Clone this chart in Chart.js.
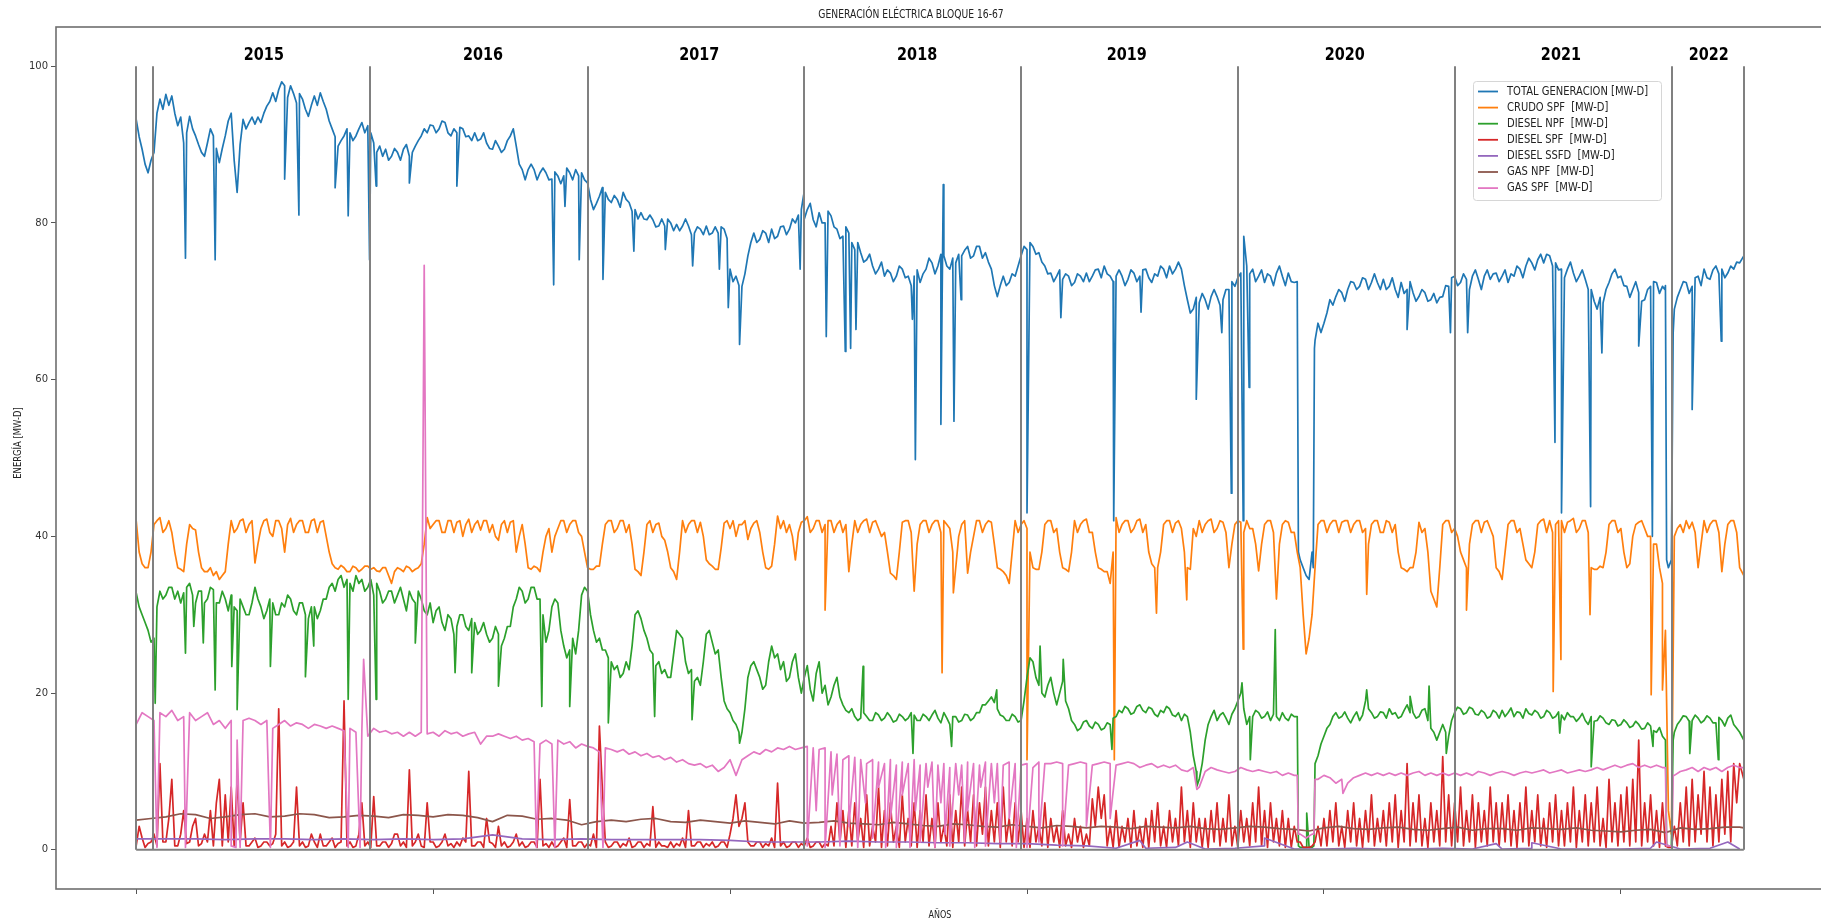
<!DOCTYPE html>
<html><head><meta charset="utf-8">
<script src="https://cdn.jsdelivr.net/npm/chart.js@4.4.1/dist/chart.umd.min.js"></script>
<style>
html,body{margin:0;padding:0;background:#fff;overflow:hidden;width:1821px;height:924px}
#wrap{position:absolute;left:0;top:0;width:1830px;height:924px}
canvas{display:block}
</style></head><body>
<div id="wrap"><canvas id="c" width="1830" height="924"></canvas></div>
<script>
const TITLE = 'GENERACIÓN ELÉCTRICA BLOQUE 16-67';
const X_LABEL = 'AÑOS';
const Y_LABEL = 'ENERGÍA [MW-D]';
const SERIES_NAMES = ['TOTAL GENERACION [MW-D]','CRUDO SPF  [MW-D]','DIESEL NPF  [MW-D]','DIESEL SPF  [MW-D]','DIESEL SSFD  [MW-D]','GAS NPF  [MW-D]','GAS SPF  [MW-D]'];
const COLORS = ['#1f77b4','#ff7f0e','#2ca02c','#d62728','#9467bd','#8c564b','#e377c2'];
const Y_TICKS = [0,20,40,60,80,100];
const X_TICKS = [0,500,1000,1500,2000,2500];
const YEAR_LINE_DAYS = [0,29,394,760,1125,1490,1855,2221,2586,2707];
const YEAR_LABELS = ['2015','2016','2017','2018','2019','2020','2021','2022'];
const YEAR_LABEL_DAYS = [215,584,948,1315,1668,2035,2399,2648];
const STEP_FINE = 5;    // days between samples of the noisy series
const STEP_MAIN = 10;   // days between samples of GAS SPF
const STEP_SMOOTH = 50; // days between samples of the smooth series

const TOTAL = [
93.2,91,89.4,87.5,86.4,88,89,94,95.8,94.5,96.4,95,96.2,94,92.4,93.5,90.2,91.5,93.6,92,
91.1,90,89,88.5,90.2,92,91.1,89.5,87.7,89.5,91.1,93,94,88,83.9,90,93.2,92,92.8,93.5,
92.6,93.5,92.8,94,94.9,95.5,96.6,95.5,97,98,97.5,96,97.5,96.5,95.3,96.5,95.8,94.5,93.6,95,
96.2,95,96.6,95.5,94.5,93,92,91,89.8,90.5,91.1,92,91.5,90.5,91.1,92,92.8,91.5,92.4,91.5,
90.2,89,89.8,88.5,89.4,88,88.5,89.5,89,88,89.4,90,88.5,89,89.8,90.5,91.1,92,91.5,92.5,
92.4,91.5,92,93,92.8,91.5,91.1,92,91.5,92.2,92,91,91.1,90.5,91.5,90.5,90.7,91.5,90.2,89.5,
89.4,90.5,89.8,89,89.4,90.5,91.1,92,89.8,87.5,86.8,85.5,86.8,87.5,86.8,85.5,86.4,87,86.4,85.5,
85.6,86.5,86,85,86,87,86.4,85.5,86.8,86,86.4,85.5,85.1,83,81.7,82.5,83.4,84.5,83.9,83,
82.6,83.5,83,82,83.9,83,82.6,81.5,81.7,80.5,81.3,80.5,80.4,81,80.4,79.5,79.6,80.5,79.6,80.5,
80,79,79.8,79,79.6,80.5,79.6,78.5,78.7,79.5,79.2,78.5,79.6,78.5,78.7,79.5,78.7,79.5,79.2,78,
74.1,72.5,73.2,72,71.9,73.5,75.8,77.5,78.7,77.5,77.9,79,78.7,77.5,79.2,78,78.3,79.5,79.6,78.5,
79.2,80.5,80,81,81.7,80.5,81.7,82.5,80.4,79.5,81.3,80,80,81.5,80.9,79.5,79.2,78,78.3,79.5,
78.7,77.5,76.6,77.5,76.2,75,75.3,76,74.5,73.5,74.1,75,73.2,74,73.6,72.5,73.2,74.5,74.1,73,
73.2,72,73.2,74,72.4,73.5,74.1,75.5,74.9,73.5,74.5,76,75.8,74.5,74.1,75.5,74.9,76,75.8,76.5,
77,75.5,75.8,77,77,75.5,76.2,75,74.1,72,70.6,72,73.2,72,72.4,73.5,73.2,74.5,75.8,77,
76.6,77.5,77,76,76.2,75,74.5,73.5,73.6,72.5,73.2,74,72.8,73.5,73.2,72,72.4,73.5,73.2,72.5,
73.6,72.5,73.2,74,74.1,73,74.5,73.5,73.2,72.5,73.2,74,73.2,72,72.8,74,73.6,72.5,73.2,74,
74.1,73,72.4,73.5,73.2,74.5,74.1,73,74.5,73.5,74.1,75,74.1,72,70.2,68.5,69,70.5,69.8,71,
70.2,69,70.6,71.5,70.6,69.5,70.2,71.5,71.5,72.5,71.9,73,73.6,75,74.5,73.5,74.1,72.5,73.2,74,
72.4,73.5,73.2,72,73.6,74.5,73.2,72,73.6,72.5,72.4,72.5,37,36,35,34.5,38,65,67.2,66,
67.2,68.5,70.2,69.5,70.6,71.5,71.1,70,71.5,72.5,72.4,71.5,71.9,73,72.8,71.5,72.4,73.5,72.4,71.5,
72.8,71.5,71.9,73,71.5,70.5,72.4,71,71.5,72.5,71.1,70,70.6,71.5,71.1,70,70.2,71,69.8,70.5,
70.6,72,71.9,73,73.2,72,72.4,73.5,72.8,71.5,73.2,74,72.8,71.5,73.2,74,72.8,73.5,73.6,72.5,
73.2,74,72.4,73.5,73.2,74.5,74.1,73,74.5,75.5,74.9,74,75.3,76,74.9,76,75.8,74.5,74.9,74,
74.1,73,74.1,75,73.6,72.5,73.2,74,72.8,71.5,71.5,70,69,70.5,69.8,71.5,72.4,73.5,74.1,73,
73.2,72,71.9,70.5,71.5,72.5,71.1,70,70.2,71.5,71.9,72.5,72.4,71,71.9,72,36,37,69,70.5,
71.5,72.5,72.4,71,71.9,73,73.2,72,74.1,73,72.8,74,74.5,73.5,74.1,73,73.6,74.5,74.1,75,74.9];
const TOTAL_EVENTS = [[83,75.5],[133,75.3],[250,85.6],[274,81],[335,84.5],[357,80.9],[393,75.3],[404,84.7],[460,85.1],[540,84.7],[703,72.1],[722,82.1],[746,75.3],[786,72.8],[838,76.4],[891,76.6],[937,74.5],[982,74.1],[997,69.2],[1016,64.5],[1118,74.1],[1124,83.6],[1162,65.5],[1194,63.6],[1203,64],[1212,66.4],[1307,67.7],[1312,49.8],[1355,54.3],[1359,84.9],[1377,54.7],[1389,70.2],[1500,43],[1557,67.9],[1646,42],[1692,68.6],[1785,57.5],[1828,66],[1844,45.5],[1864,42],[1865,78.3],[1874,59],[1957,38],[1982,36],[1984,64],[2140,66.4],[2213,66],[2242,66],[2389,52],[2400,43],[2449,43.8],[2468,63.4],[2530,64.3],[2553,40],[2574,71.5],[2577,37],[2586,37],[2588,66],[2620,56.2],[2669,64.9],[2707,75.8]];

const CRUDO = [
42,38,36.5,36,36,38,41.5,42,42.4,40.5,41,42,40.5,38,36,35.8,35.5,39,41.5,41,
40.8,38,36,35.5,35.5,36,35,35.5,34.5,35,35.5,39,42,40.5,41,42,42.2,40.5,41.5,42,
36.6,39,41,42,42.2,40.5,40,42,42,41,38,41.5,42.3,40.5,41.5,42,42,40.5,40.5,42,
42.2,40.5,41.8,42,40,38,36.5,36,35.8,36.3,36,35.5,35.5,36.2,36,35.5,35.8,36.2,36.2,35.8,
36,35.6,35.5,36,36,35,34,35.5,36,35.8,35.5,36.2,36,35.5,35.8,36,36.5,39,42.4,41,
41.5,42,42,40.5,40.5,42,42,40.5,41.8,42,40,41.5,42.2,40.5,41.5,42,40.8,42,42,40.5,
41.5,40,39.5,41.5,42,40.5,41.8,42,38,40,41.5,39,36,35.8,36.2,36,35.5,38,40,41,
38,40,41,42,42,40.5,41.5,42,42,40.5,40,38,36,35.8,35.8,36.2,36.2,39,41.5,42,
42,40.5,41,42,42,40.5,41.5,39,35.8,35.5,35,38,41.5,42,40.5,41.5,41.7,40,39.5,38,
36,35.5,34.5,38,42,40.5,41.5,42,42,40.5,41.8,40,37,36.5,36.2,35.8,35.8,38.5,41.7,42,
41,42,40,41.5,41.5,42,39.6,41,41.7,42,40.5,38,36,35.8,36.2,39,42.6,41,42,40.5,
41.5,40,37,40.5,41.8,42,42.5,40.5,41,42,42,40.5,41.5,42,42,40.5,41.5,42,40.5,41.5,
35.5,39,42,40.5,41.5,42,42.2,40.5,41.8,42,41,40,40.5,38,35.3,35,34.5,38,41.8,42,
42,40.5,33,39,41.5,42,42,40.5,41.5,42,42,40.5,42,41.5,41,38,36,40,41.5,42,
35.3,38,40,42,42,40.5,41.5,42,41.8,39,36,35.8,35.5,35,34,38,42,40.5,41.5,42,
41,38,36,35.8,35.8,38,41.5,42,42,40.5,41,38,36,35.8,35.5,38,42,40.5,41.5,42,
42.2,40.5,40.5,38,36,35.8,35.5,35.5,34,38,42.4,40.5,41.5,42,42,40.5,41,42,42.2,40.5,
41.5,38,36.5,36,36,38,41.5,42,42,40.5,41.7,42,41,38,36,35.8,41,40,42,40.5,
41.5,42,42.2,40.5,41,42,41.8,40.5,36,39,41.5,42,41.8,40.5,42,41,41,39,35.6,39,
41.5,42,42,40.5,32,39,41.5,42,41.8,40.5,40.5,38,36,30,25,27,30,36,41.5,42,
42,40.5,41.5,42,42,40.5,41.8,42,42,40.5,41.5,42,42,40.5,41,39,41.5,42,42,40.5,
40.5,42,41.8,40.5,41.5,38,36,35.8,35.5,36,36,38,41.8,40.5,41,38,33,32,31,36,
41.5,42,42,40.5,41,40,38,37,36,39,41.5,42,42,40.5,41.8,42,41,40,36,35.5,
34.5,38,41.5,42,42,40.5,41,39,37,36.5,36,38,41.5,42,42.2,40.5,42,40.5,41.5,42,
42,40.5,41.8,42,42.3,40.5,41,42,42,40.5,36,35.8,35.8,36.2,36,38,41.5,42,42,40.5,
41,38,36,36.5,40,41.5,41.8,42,41,40,40,39,39,36,34,28,5,2,40,41,
41.5,40.5,42,41,41.8,40.5,36,39,42,40.5,41.5,42,42,40.5,35.5,39,41.5,42,42,40.5,36];
const CRUDO_EVENTS = [[1160,30.6],[1357,22.6],[1376,32.8],[1500,11.5],[1647,11.5],[1718,30.2],[1769,31.9],[1864,25.6],[2072,32.6],[2240,30.6],[2386,20.2],[2399,24.3],[2448,30],[2551,19.8],[2570,20.4],[2707,35]];

const DIESEL_NPF = [
32.8,31,30,29,28,26.5,27,31,33,32,32.5,33.5,33.5,32,33,31.5,32.8,33.5,34,32.5,
31.5,33,33,31.5,32,33.5,33.2,31.5,31.5,33,32,30.5,32.5,31,30.5,32,31,30,30,31.5,
33.5,32,31,29.5,30.5,32,31.5,30,30,31.5,31,32.5,32,30.5,30,31.5,31.5,30,29.5,31,
31,29.5,30.5,32,32,33.5,34,33,34.5,35,33.5,34.5,34,33,35,34,34.5,33,33.5,34.5,
32.5,34,33,31.5,32,33,33,31.5,32.5,33.5,32,30.5,33,32,31.5,33,32,30.5,30,31.5,
29,30.5,31,29,28,30,29.5,27.5,28.5,30,30,28.5,28,29.5,29,27.5,28,29,27.5,26.5,
27,28.5,27.5,26,27,28.5,28.5,31,32,33.5,33,31.5,32,33.5,33.5,32,32,30,26.5,28,
31,32,31.5,28,26,24.5,25.5,27,25,28,32.5,33.5,33,30,28,26.5,27,25.5,25.5,24.5,
24,23,23.5,22,22.5,24,23,26,30,30.5,29.5,28,27,25.5,25,23.5,24,22.5,23,22,
22,25,28,27.5,27,24,22.5,23,21.5,22,21,24,27.5,28,26.5,25,25.5,22,19,18,
17.5,16.5,16,15,15,18,22,23.5,24,23,22,20.5,21,24,26,24.5,25,23,24,21.5,
22,24,25,22,20,22,23.5,20.5,19,22.5,24,20,21,18.5,19.5,21,22,19.5,18.5,17.8,
17.5,18,17,16.5,16.8,17.5,17,16.5,16.5,17.5,17.2,16.5,16.8,17.5,17,16.3,16.5,17.3,17,16.5,
16.8,17.5,17.2,16.5,16.5,17.3,17,16.5,17.2,17.8,16.8,16.2,17.5,16.8,16,17,17,16.3,16.5,17.3,
17.2,16.5,16.8,17.5,17.5,18.5,18.5,19,19.5,18.8,18,17.2,17,16.5,16.5,17.3,17,16.3,16.5,19,
22,24.5,24,22,21,20,19.5,21,22,20,18.5,20,21.5,19,18,16.5,16,15.2,15.5,16.3,
16.5,15.8,15.5,16.3,16,15.3,15.5,16.2,16,16.8,17,17.8,17.5,18.3,18,17.3,17.5,18.3,18.5,17.8,
17.5,18.2,18,17.3,17,17.8,17.5,18.3,18,17.2,17,17.5,16.5,17.3,17,15,12,10,9,11,
14,16,17,17.8,16.5,17.2,17.5,16.8,16,17.3,18,19,20,18,16,17,17,17.8,17.5,16.8,
17,17.6,16.5,17.3,17,16.5,17.5,16.8,16.5,17.3,17,17,0.3,0.3,0.3,0.3,0.3,11,12,13.5,
14.5,15.5,16,17,17.5,16.8,17,17.6,16.8,16.2,17,17.6,16.5,17.2,19,18,17.5,16.8,17,17.6,
17.5,16.8,18,17.3,17.5,16.8,17,17.8,18.5,17.5,17.5,16.8,17,17.8,18,16.5,15.5,15,14,15,
16,15,14.5,16.5,17.5,18.2,18,17.3,17.5,18.2,18,17.3,17.2,17.8,17.5,16.8,17,17.8,17.5,16.8,
17.8,17,17.5,18.1,17,17.6,17.5,16.8,18,17.4,17.2,17.8,17.5,16.8,17,17.8,17.5,16.8,17,17.6,
17.2,16.6,17.5,17,17,16.4,16.8,17.4,16.5,16,17,16.4,16.5,17.1,16.8,16.2,16,16.6,16.5,15.8,
16,16.6,16.2,15.6,15.8,16.4,16,15.4,15.5,16.2,15.8,15.2,15,15.6,14.5,14,0.5,0.5,15,16,
16.5,17.1,17,16.4,16.5,17.2,16.8,16.2,16.5,17.1,16.8,16.2,16.2,16.9,16.5,15.8,16.8,17.2,16,15.5,15];
const DIESEL_NPF_EVENTS = [[32,18.7],[83,25.1],[97,28.5],[113,26.4],[133,20.4],[161,23.4],[170,17.9],[226,23.4],[285,22.1],[299,26],[357,19.2],[404,19.2],[470,26.4],[537,22.6],[565,22.6],[610,20.9],[683,18.3],[730,18.3],[795,16.2],[873,17],[936,16.6],[1016,13.6],[1224,23.4],[1308,12.3],[1373,13.2],[1449,20.4],[1522,26],[1561,24.3],[1643,12.8],[1786,8.1],[1862,21.3],[1876,11.5],[1918,28.1],[1957,0.5],[1971,4.7],[1983,0.5],[2072,20.4],[2145,19.6],[2177,20.9],[2206,12.3],[2397,14.9],[2450,10.6],[2554,13.2],[2577,0.5],[2586,0.5],[2588,14],[2616,12.3],[2664,11.5],[2707,14]];

const DIESEL_SPF = [
0.5,3,1.5,0.3,0.8,1,2,0.5,11,1,1,4,9,0.5,0.5,2,5,0.8,1,3,
4,0.5,0.8,2,1,5,0.5,6,9,0.5,7,1,8,0.5,9,1,6,0.5,0.5,1,
1.5,0.3,0.5,1,1,0.5,0.8,2,18,0.5,1,0.3,0.5,1,8,0.5,1,0.3,0.5,2,
1,0.3,2,0.5,0.5,1,1.5,0.3,0.8,1,19,0.5,1,0.3,0.5,2,6,0.5,1,0.3,
6.8,0.5,0.5,1,1,0.3,0.8,2,2,0.5,1,0.3,10.2,0.5,1,2,0.5,0.3,6,1,
1,0.3,0.5,1,2,0.5,0.8,0.3,1,0.5,1.5,1,10,0.5,0.5,1,1,0.3,4,1,
0.8,0.3,3,0.5,1,0.3,0.5,1,2,0.5,1,0.3,0.5,1,1,0.3,9,0.5,0.8,0.3,
1,0.3,0.5,1,1.5,0.3,6.4,0.5,0.5,1,1,0.3,0.8,0.5,2,0.3,15.8,7.7,1,0.3,
0.5,1,1,0.3,0.8,0.5,1.5,0.3,0.5,1,1,0.3,0.8,0.5,5.5,0.3,1,0.5,0.5,0.3,
1,0.3,0.8,0.5,1.5,0.3,5,0.5,0.5,1,1,0.3,0.8,0.5,1,0.3,0.5,1,1,0.3,
2,4,7,3,4,6,1,0.5,0.5,1,1,0.3,0.8,0.5,1.5,0.3,8.5,0.5,1,0.3,
0.5,1,1,0.3,0.8,0.5,1.5,0.3,0.5,1,1,0.3,0.8,0.5,3,0.5,6,1,5,0.3,
5,0.5,6,1,4,0.3,7,0.5,3,1,8,0.3,5,0.5,6,1,3,0.3,7,1,
4,0.5,6,0.3,5,1,7,0.5,4,0.3,6,1,3,0.5,7,0.3,5,1,8,0.5,
5,1,7,0.5,6,2,8,0.5,5,1,6,0.3,8,1,4,0.5,6,1,5,0.3,
4,0.3,5,1,3,0.5,6,0.3,4,1,3,0.3,5,0.5,2,0.3,4,1,3,0.3,
2,0.5,6.5,3,8,4,7,0.5,3,0.3,5,0.3,3,1,4,0.3,5,0.5,3,0.3,
4,0.3,5,1,6,0.5,3,0.3,5,1,4,0.5,8,1,5,0.3,6,1,4,0.3,
4,0.3,5,1,6,0.5,4,1,7,0.5,3,0.3,5,1,4,0.5,6,1,8,0.5,
5,0.3,6,1,4,0.5,5,0.3,4,0.3,3,1,1,0.3,0.3,0.3,0.5,1,3,0.5,
4,0.5,5,1,6,0.5,3,0.3,5,1,6,0.5,4,0.3,5,1,7,0.5,4,1,
5,0.5,6,1,7,0.3,5,1,11,0.5,6,1,7,0.5,4,0.3,6,1,5,0.5,
11.9,1,7,0.5,6,1,8,0.5,5,1,7,0.3,6,1,5,0.5,8,1,6,0.5,
6,1,7,0.5,5,0.3,6,1,8,0.5,5,1,7,0.5,4,0.3,6,1,7,0.5,
5,0.5,6,1,8,0.3,5,1,7,0.5,6,1,8,0.5,4,0.3,9,1,6,0.5,
7,1,8,0.5,9,1,14,0.5,6,1,7,0.5,5,0.3,6,0.5,0.3,0.3,3,0.5,
6,1,8,0.5,9,1,7,2,10,1,8,0.5,7,1,9,2,10,1,11,6,11];
const DIESEL_SPF_EVENTS = [[2707,9]];

const DIESEL_SSFD = [1.4,1.4,1.4,1.3,1.4,1.4,1.3,1.4,1.3,1.4,1.3,1.4,1.9,1.4,1.3,1.4,1.3,1.3,1.3,1.3,1.2,1.0,1.0,1.0,1.1,1.0,1.0,0.9,0.9,0.8,0.8,0.6,0.5,0.2,0.2,0.3,0.1,0.2,0.5,0.1,0.1,0.2,0.1,0.1,0.2,0.1,0.1,0.2,0.1,0.1,0.1,0.2,0.1,0.2,0.1];
const DIESEL_SSFD_EVENTS = [[1690,1.2],[1770,1],[1900,1.5],[2290,0.8],[2350,0.9],[2560,1],[2680,1]];

const GAS_NPF = [3.8,4.2,4.5,4.2,4.6,4.3,4.5,4.2,4.3,4.5,4.2,4.4,3.6,4.3,4.0,3.2,3.8,3.9,3.6,3.8,3.4,3.5,3.7,3.5,3.4,3.2,3.3,3.0,3.2,2.9,3.0,3.1,2.8,2.9,3.0,2.8,2.7,2.8,2.9,2.6,2.8,2.7,2.8,2.6,2.7,2.5,2.7,2.8,2.6,2.5,2.3,2.6,2.8,2.7,2.9];
const GAS_NPF_EVENTS = [[25,4.0],[75,4.6],[125,4.0],[175,4.5],[225,4.2],[275,4.6],[325,4.1],[375,4.4],[425,4.1],[475,4.4],[525,4.5],[575,4.1],[625,4.4],[675,3.9],[725,3.8],[775,3.6],[825,3.6],[875,4.0],[925,3.5],[975,3.6],[1025,3.7],[1075,3.3],[1125,3.4],[1175,3.7],[1225,3.3],[1275,3.5],[1325,3.1],[1375,3.3],[1425,3.0],[1475,3.2],[1525,2.8],[1575,3.0],[1625,3.0],[1675,2.7],[1725,2.9],[1775,3.0],[1825,2.6],[1875,3.0],[1925,2.7],[1975,2.4],[2025,3.0],[2075,2.6],[2125,2.9],[2175,2.5],[2225,2.9],[2275,2.7],[2325,2.5],[2375,2.7],[2425,2.8],[2475,2.4],[2525,2.5],[2575,2.2],[2625,2.6],[2675,2.9],[2707,2.8]];

const GAS_SPF = [
16,17.5,17,16.5,17.5,17,17.8,16.5,17,17.5,
16.5,17,17.5,16,16.5,15.5,16.5,14,16.5,16.8,
16.5,16,16.5,15.5,16,16.5,15.8,16.2,16,15.5,
16,15.8,15.5,15.8,15.5,15.2,15.5,15,15.2,14.5,
15.5,15,15.2,14.8,15,14.5,15,14.5,15,14.8,
15,14.5,15.2,14.8,15,14.5,14.8,15,13.5,14.5,
14.5,14.8,14.5,14.2,14.5,14,14.2,13.8,13.5,14,
13.5,14,13.5,13.8,13,13.5,13.2,13,12.5,13,
12.8,12.5,12.8,12.2,12.5,12,12.3,11.8,12,11.5,
11.8,11.2,11.5,11,10.8,11,10.5,10.8,10,10.5,
11.5,9.5,11.5,12,12.5,12.2,12.8,12.5,13,12.8,
13.2,12.8,13,13.2,13,12.8,13,12.5,12.2,11.5,
12,11.8,11.5,11,11.5,11.2,11,11.5,10.8,11.2,
11,11.5,10.8,11,11.2,10.8,11,10.5,11,10.8,
11.2,11,10.8,11.2,11,11,10.8,11.2,11,10.8,
11,10.5,11.2,11,11,11.2,11,10.8,11,11.2,
11,10.8,11,11.2,11,10.8,11,11.2,11,10.5,
10.8,11,10.5,10.8,10.5,10.8,10.2,10,10.5,8,
10,10.5,10.2,10,9.8,10,10.5,10.2,10,10.2,
10,9.8,10,9.5,9.8,9.5,2,1.5,2,9,
9.5,9.2,8.5,9,8.5,9.2,9.5,9.8,9.5,9.8,
9.5,9.8,9.5,9.8,9.5,9.8,10,9.5,9.8,9.5,
9.8,9.5,9.8,9.5,9.8,9.5,10,9.8,9.5,9.8,
10,9.8,9.5,9.8,10,9.8,10,10.2,9.8,10,
10.2,9.8,10,10.2,10,10.2,10.5,10.2,10.5,10.8,
10.5,10.8,11,10.5,10.8,10.5,10.8,10.5,0.5,9.5,
10,10.2,10.5,10,10.5,10.2,10.5,10,10.5,10.8,10.5];
const GAS_SPF_EVENTS = [[35,0.3],[83,0.3],[160,0.5],[168,0.3],[175,0.3],[226,0.3],[357,0.3],[377,0.3],[383,24.3],[485,74.6],[674,0.3],[705,0.3],[786,0.3],[1130,0.5],[1145,5],[1160,0.3],[1172,7],[1185,0.5],[1200,3],[1215,0.3],[1228,6],[1240,1.5],[1250,8],[1262,0.3],[1270,4],[1280,0.3],[1290,7],[1303,0.3],[1312,5],[1320,1],[1333,8],[1345,0.3],[1355,6],[1362,2],[1370,0.5],[1385,7],[1395,1],[1400,5],[1412,0.3],[1422,8],[1430,0.5],[1445,6],[1455,1],[1470,4],[1482,0.3],[1500,0.3],[1520,1],[1560,0.5],[1600,3],[1640,4],[1786,7.7],[1955,9.5],[1957,2],[1983,2],[1985,9],[2032,7.2],[2575,10.5],[2577,0.5],[2586,0.5],[2588,9.5],[2707,10.5]];

function buildPoints(values, step, events) {
  const pts = values.map((v, i) => ({x: i * step, y: v}));
  events.forEach(e => pts.push({x: e[0], y: e[1]}));
  pts.sort((a, b) => a.x - b.x);
  return pts;
}

const SERIES = [
  [TOTAL, STEP_FINE, TOTAL_EVENTS],
  [CRUDO, STEP_FINE, CRUDO_EVENTS],
  [DIESEL_NPF, STEP_FINE, DIESEL_NPF_EVENTS],
  [DIESEL_SPF, STEP_FINE, DIESEL_SPF_EVENTS],
  [DIESEL_SSFD, STEP_SMOOTH, DIESEL_SSFD_EVENTS],
  [GAS_NPF, STEP_SMOOTH, GAS_NPF_EVENTS],
  [GAS_SPF, STEP_MAIN, GAS_SPF_EVENTS]
];

const datasets = SERIES.map((s, i) => ({
  label: SERIES_NAMES[i],
  data: buildPoints(s[0], s[1], s[2]),
  borderColor: COLORS[i],
  backgroundColor: COLORS[i],
  borderWidth: 1.7,
  pointRadius: 0,
  tension: 0,
  fill: false,
  borderJoinStyle: 'round',
  order: SERIES.length - i
}));

function ctext(ctx, text, x, y, font, color, align, sx, rot) {
  ctx.save();
  ctx.font = font; ctx.fillStyle = color;
  ctx.textBaseline = 'middle'; ctx.textAlign = align;
  ctx.translate(x, y);
  if (rot) ctx.rotate(rot);
  ctx.scale(sx, 1);
  ctx.fillText(text, 0, 0);
  ctx.restore();
}

const decor = {
  id: 'decor',
  beforeDraw(chart) {
    const c = chart.ctx;
    c.save(); c.fillStyle = '#fff'; c.fillRect(0, 0, chart.width, chart.height); c.restore();
  },
  afterDatasetsDraw(chart) {
    const c = chart.ctx, xs = chart.scales.x, ys = chart.scales.y;
    c.save();
    c.strokeStyle = '#808080'; c.lineWidth = 2;
    YEAR_LINE_DAYS.forEach(d => {
      const px = Math.round(xs.getPixelForValue(d));
      c.beginPath(); c.moveTo(px, ys.getPixelForValue(0)); c.lineTo(px, ys.getPixelForValue(100)); c.stroke();
    });
    c.beginPath();
    c.moveTo(xs.getPixelForValue(YEAR_LINE_DAYS[0]), ys.getPixelForValue(0));
    c.lineTo(xs.getPixelForValue(YEAR_LINE_DAYS[YEAR_LINE_DAYS.length - 1]), ys.getPixelForValue(0));
    c.stroke();
    c.restore();
  },
  afterDraw(chart) {
    const c = chart.ctx, a = chart.chartArea, xs = chart.scales.x, ys = chart.scales.y;
    c.save();
    c.strokeStyle = '#6e6e6e'; c.lineWidth = 1.6;
    c.strokeRect(a.left, a.top, a.right - a.left, a.bottom - a.top);
    c.restore();
    YEAR_LABELS.forEach((t, i) => {
      ctext(c, t, xs.getPixelForValue(YEAR_LABEL_DAYS[i]), ys.getPixelForValue(101.4), 'bold 18px "DejaVu Sans"', '#000', 'center', 0.8);
    });
    ctext(c, TITLE, 911, 15, '11.5px "DejaVu Sans"', '#222', 'center', 0.8);
    ctext(c, X_LABEL, (a.left + a.right) / 2, 915, '10px "DejaVu Sans"', '#222', 'center', 0.8);
    ctext(c, Y_LABEL, 18, 443, '10.5px "DejaVu Sans"', '#222', 'center', 0.8, -Math.PI / 2);
    const lx = 1473, ly = 81, lw = 188, lh = 119;
    c.save();
    c.fillStyle = 'rgba(255,255,255,0.85)'; c.strokeStyle = '#d6d6d6'; c.lineWidth = 1;
    c.beginPath();
    if (c.roundRect) c.roundRect(lx + 0.5, ly + 0.5, lw, lh, 3); else c.rect(lx + 0.5, ly + 0.5, lw, lh);
    c.fill(); c.stroke();
    c.restore();
    SERIES_NAMES.forEach((n, i) => {
      const y = 91.5 + i * 16.1;
      c.save(); c.strokeStyle = COLORS[i]; c.lineWidth = 1.8;
      c.beginPath(); c.moveTo(1478, y); c.lineTo(1498, y); c.stroke(); c.restore();
      ctext(c, n, 1507, y, '12px "DejaVu Sans"', '#222', 'left', 0.83);
    });
  }
};

const gridCfg = {display: true, drawOnChartArea: false, drawTicks: true, tickLength: 5, color: '#555', lineWidth: 1};

new Chart(document.getElementById('c'), {
  type: 'line',
  data: {datasets},
  options: {
    responsive: false,
    animation: false,
    devicePixelRatio: 1,
    parsing: false,
    normalized: true,
    layout: {padding: {left: 0, top: 27, right: 6, bottom: 0}},
    plugins: {legend: {display: false}, title: {display: false}, tooltip: {enabled: false}},
    scales: {
      x: {
        type: 'linear', min: -135, max: 2842,
        afterBuildTicks: s => { s.ticks = X_TICKS.map(v => ({value: v})); },
        afterFit: s => { s.height = 35; },
        ticks: {callback: () => '', padding: 2},
        grid: gridCfg,
        border: {display: false}
      },
      y: {
        type: 'linear', min: -5, max: 105,
        afterBuildTicks: s => { s.ticks = Y_TICKS.map(v => ({value: v})); },
        afterFit: s => { s.width = 56; },
        ticks: {font: {family: 'DejaVu Sans', size: 10}, color: '#333', padding: 3},
        grid: gridCfg,
        border: {display: false}
      }
    }
  },
  plugins: [decor]
});
</script>
</body></html>
